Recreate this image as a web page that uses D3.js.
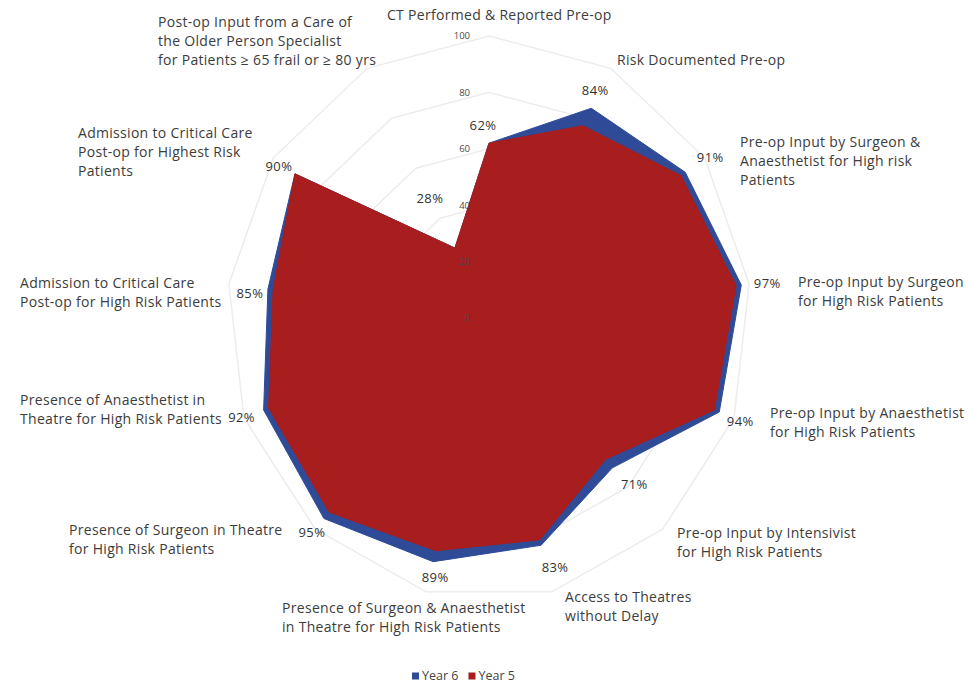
<!DOCTYPE html>
<html><head><meta charset="utf-8">
<script src="https://cdn.jsdelivr.net/npm/d3@7"></script>
<style>
body{margin:0;background:#fff}
svg{display:block}
text{font-family:"Open Sans",sans-serif}
</style>
</head><body>
<svg id="chart" width="971" height="686"></svg>
<script>
// Categories (one entry per spoke, each split into its printed lines)
const categories = [
  ["CT Performed & Reported Pre-op"],
  ["Risk Documented Pre-op"],
  ["Pre-op Input by Surgeon &", "Anaesthetist for High risk", "Patients"],
  ["Pre-op Input by Surgeon", "for High Risk Patients"],
  ["Pre-op Input by Anaesthetist", "for High Risk Patients"],
  ["Pre-op Input by Intensivist", "for High Risk Patients"],
  ["Access to Theatres", "without Delay"],
  ["Presence of Surgeon & Anaesthetist", "in Theatre for High Risk Patients"],
  ["Presence of Surgeon in Theatre", "for High Risk Patients"],
  ["Presence of Anaesthetist in", "Theatre for High Risk Patients"],
  ["Admission to Critical Care", "Post-op for High Risk Patients"],
  ["Admission to Critical Care", "Post-op for Highest Risk", "Patients"],
  ["Post-op Input from a Care of", "the Older Person Specialist", "for Patients \u2265 65 frail or \u2265 80 yrs"]
];
const year6 = [62, 84, 91, 97, 94, 71, 83, 89, 95, 92, 85, 90, 28];
const year5 = [62, 77, 89, 95, 92, 67, 81, 85, 92, 90, 83, 90, 28];
const tickValues = [0, 20, 40, 60, 80, 100];
const seriesNames = ["Year 6", "Year 5"];

// Layout: where each category caption starts, and where each value label sits relative to its point
const captionPos = [[387,15],[617,60],[740,142],[798,282],[770,413],[677,533],[565,597],[282,608],[69,530],[20,400],[20,283],[78,133],[158,22]];
const valueLabelShift = [[-6,-18],[4,-18],[25,-15],[26,-2],[21,9],[22,17],[14,22],[2,16],[-12,14],[-22,7],[-18,4],[-16,-7],[-25,-50]];

const W = 971, H = 686;
const cx = 489, cy = 318;
const colors = {"Year 6": "#2f4b98", "Year 5": "#a81d1e"};

const svg = d3.select("#chart");
svg.append("rect").attr("width", W).attr("height", H).attr("fill", "#fff");

const angle = d3.scaleLinear().domain([0, categories.length]).range([0, 2 * Math.PI]);
const rx = d3.scaleLinear().domain([0, 100]).range([0, 262]);
const ry = d3.scaleLinear().domain([0, 100]).range([0, 282]);

const px = (v, i) => cx + rx(v) * Math.sin(angle(i));
const py = (v, i) => cy - ry(v) * Math.cos(angle(i));

// Grid rings
const idx = d3.range(categories.length);
const ringLine = v => d3.line().x(i => px(v, i)).y(i => py(v, i)).curve(d3.curveLinearClosed)(idx);
svg.append("g").selectAll("path").data(tickValues.filter(t => t > 0)).join("path")
  .attr("d", ringLine)
  .attr("fill", "none")
  .attr("stroke", "#ececec")
  .attr("stroke-width", 1.5);

// Series polygons: Year 6 behind, Year 5 in front
const area = vals => d3.line().x((v, i) => px(v, i)).y((v, i) => py(v, i)).curve(d3.curveLinearClosed)(vals);
const series = [{name: "Year 6", values: year6}, {name: "Year 5", values: year5}];
svg.append("g").selectAll("path").data(series).join("path")
  .attr("d", d => area(d.values))
  .attr("fill", d => colors[d.name])
  .attr("stroke", d => colors[d.name])
  .attr("stroke-width", 1)
  .attr("stroke-linejoin", "round");

// Radial axis tick labels
svg.append("g").selectAll("text").data(tickValues).join("text")
  .attr("x", cx - 19)
  .attr("y", d => cy - ry(d))
  .attr("dy", "0.35em")
  .attr("text-anchor", "end")
  .attr("font-size", 9.5)
  .attr("fill", "#4a4a4a")
  .text(d => d);

// Value labels for Year 6
svg.append("g").selectAll("text").data(year6).join("text")
  .attr("x", (v, i) => px(v, i) + valueLabelShift[i][0])
  .attr("y", (v, i) => py(v, i) + valueLabelShift[i][1])
  .attr("dy", "0.35em")
  .attr("text-anchor", "middle")
  .attr("font-size", 13)
  .attr("letter-spacing", 0.4)
  .attr("fill", "#333")
  .text(v => v + "%");

// Category captions
const cap = svg.append("g").selectAll("text").data(categories).join("text")
  .attr("font-size", 14)
  .attr("letter-spacing", 0.3)
  .attr("fill", "#3c3c3c")
  .attr("x", (d, i) => captionPos[i][0])
  .attr("y", (d, i) => captionPos[i][1]);
cap.selectAll("tspan").data((d, i) => d.map(line => ({line, i}))).join("tspan")
  .attr("x", d => captionPos[d.i][0])
  .attr("dy", (d, j) => j === 0 ? "0.35em" : 19)
  .text(d => d.line);

// Legend
const leg = svg.append("g").attr("transform", "translate(412,676)");
let lx = 0;
seriesNames.forEach(name => {
  leg.append("rect").attr("x", lx).attr("y", -3.5).attr("width", 7).attr("height", 7).attr("fill", colors[name]);
  const t = leg.append("text").attr("x", lx + 10).attr("y", 0).attr("dy", "0.35em")
    .attr("font-size", 12.5).attr("fill", "#444").text(name);
  lx += 10 + t.node().getComputedTextLength() + 10;
});
</script>
</body></html>
